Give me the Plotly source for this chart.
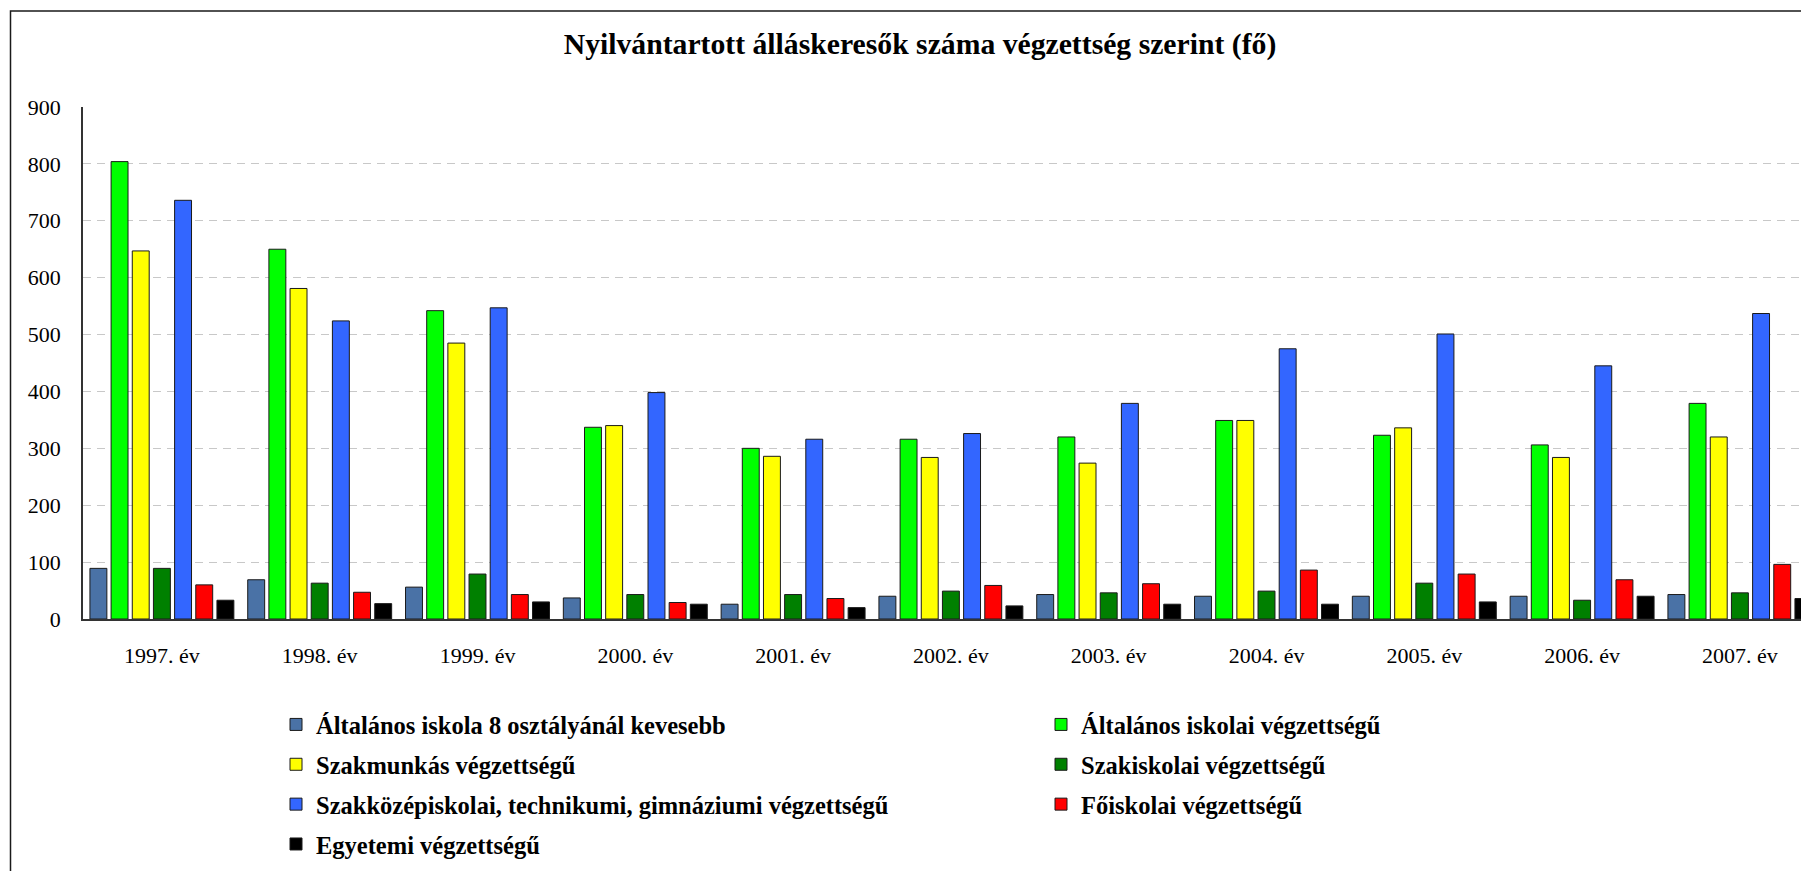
import plotly.graph_objects as go

categories = ["1997. év", "1998. év", "1999. év", "2000. év", "2001. év", "2002. év",
              "2003. év", "2004. év", "2005. év", "2006. év", "2007. év"]

series_names = [
    "Általános iskola 8 osztályánál kevesebb",
    "Általános iskolai végzettségű",
    "Szakmunkás végzettségű",
    "Szakiskolai végzettségű",
    "Szakközépiskolai, technikumi, gimnáziumi végzettségű",
    "Főiskolai végzettségű",
    "Egyetemi végzettségű",
]

kevesebb_8 = [89, 69, 56, 37, 26, 40, 43, 40, 40, 40, 43]
altalanos = [804, 650, 542, 337, 300, 316, 320, 349, 323, 306, 379]
szakmunkas = [647, 581, 485, 340, 286, 284, 274, 349, 336, 284, 320]
szakiskolai = [89, 63, 79, 43, 43, 49, 46, 49, 63, 33, 46]
szakkozep = [736, 524, 547, 398, 316, 326, 379, 475, 501, 445, 537]
foiskolai = [60, 47, 43, 29, 36, 59, 62, 86, 79, 69, 96]
egyetemi = [33, 27, 30, 26, 20, 23, 26, 26, 30, 40, 36]

series_values = [kevesebb_8, altalanos, szakmunkas, szakiskolai, szakkozep, foiskolai, egyetemi]
colors = ["#4A72A6", "#00FF00", "#FFFF00", "#008000", "#3366FF", "#FF0000", "#000000"]
legend_ids = ["legend", "legend2", "legend", "legend2", "legend", "legend2", "legend"]

# page body has an 8px margin; figure coordinates are screen coordinates minus OFF
OFF = 8
SCREEN_W, SCREEN_H = 1809, 871
W, H = SCREEN_W - OFF, SCREEN_H - OFF
L, T, B = 83 - OFF, 107 - OFF, 619 - OFF
cat_px = 157.8
plot_w = W - L
plot_h = B - T

fig = go.Figure()
for i, (name, vals) in enumerate(zip(series_names, series_values)):
    fig.add_trace(go.Bar(
        x=categories, y=vals, name=name,
        marker=dict(color=colors[i], line=dict(color="#1a1a1a", width=1)),
        legend=legend_ids[i], legendgroup=f"g{i}",
    ))

x_max = -0.5 + plot_w / cat_px

legend_font = dict(family="Liberation Serif", size=24.5, color="#000000", weight="bold")


def px_x(sx):
    return (sx - OFF - L) / plot_w


def px_y(sy):
    return (B - (sy - OFF)) / plot_h


fig.update_layout(
    width=W, height=H,
    margin=dict(l=L, r=0, t=T, b=H - B, pad=0, autoexpand=False),
    paper_bgcolor="white", plot_bgcolor="white",
    barmode="group", bargap=0.061, bargroupgap=0.2,
    title=dict(
        text="<b>Nyilvántartott álláskeresők száma végzettség szerint (fő)</b>",
        font=dict(family="Liberation Serif", size=29.7, color="#000000"),
        x=(920 - OFF) / W, xref="container", xanchor="center",
        y=1 - (44 - OFF) / H, yref="container", yanchor="middle",
    ),
    legend=dict(
        x=px_x(276), xref="paper", xanchor="left",
        y=px_y(702), yref="paper", yanchor="top",
        orientation="v", tracegroupgap=5, font=legend_font,
        bgcolor="rgba(0,0,0,0)", borderwidth=0, itemclick=False,
    ),
    legend2=dict(
        x=px_x(1041), xref="paper", xanchor="left",
        y=px_y(702), yref="paper", yanchor="top",
        orientation="v", tracegroupgap=5, font=legend_font,
        bgcolor="rgba(0,0,0,0)", borderwidth=0, itemclick=False,
    ),
    xaxis=dict(
        type="category", range=[-0.5, x_max], automargin=False,
        showgrid=False, showline=True, linecolor="#333333", linewidth=1.5,
        ticks="", ticklabelstandoff=16, tickangle=0,
        tickfont=dict(family="Liberation Serif", size=22, color="#000000"),
    ),
    yaxis=dict(
        range=[0, 900], dtick=100, tick0=0, automargin=False,
        showgrid=True, gridcolor="#c8c8c8", gridwidth=1, griddash="8px,6px",
        showline=True, linecolor="#333333", linewidth=1.5,
        zeroline=False, ticks="", ticklabelstandoff=16,
        tickfont=dict(family="Liberation Serif", size=22, color="#000000"),
    ),
    showlegend=True,
)

# outer chart frame (top and left edges visible in the crop)
fig.add_shape(
    type="rect", xref="paper", yref="paper",
    x0=px_x(10.5), x1=px_x(SCREEN_W + 20),
    y0=px_y(11), y1=px_y(SCREEN_H + 20),
    line=dict(color="#1a1a1a", width=1.5), fillcolor="rgba(0,0,0,0)", layer="below",
)

fig.write_html("out.html")
